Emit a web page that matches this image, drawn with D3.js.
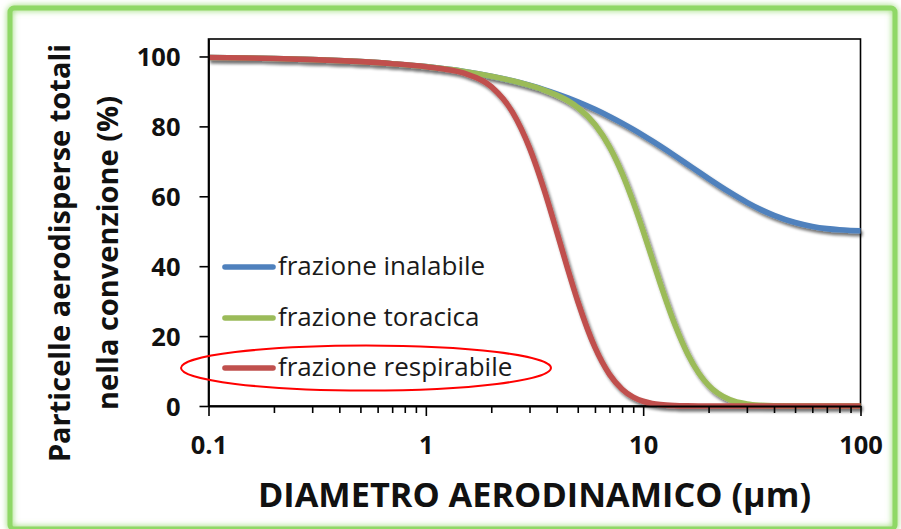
<!DOCTYPE html>
<html>
<head>
<meta charset="utf-8">
<script src="https://cdn.jsdelivr.net/npm/d3@7"></script>
<style>
  html, body { margin: 0; padding: 0; background: #ffffff; }
  svg { display: block; }
  text { font-family: "Open Sans", "Liberation Sans", sans-serif; }
</style>
</head>
<body>
<svg id="chart" width="901" height="529"></svg>
<script>
// Aerodynamic diameter (µm) sampled along the log axis
const diameters = [0.1, 0.15, 0.2, 0.3, 0.5, 0.7, 1, 1.5, 2, 2.5, 3, 3.5, 4, 4.5, 5, 6, 7, 8, 9, 10,
  11, 12, 14, 16, 18, 20, 25, 30, 35, 40, 50, 60, 70, 80, 90, 100];

// Fraction of total airborne particles in each convention (%)
const inalabile = [99.7, 99.55, 99.4, 99.11, 98.52, 97.94, 97.09, 95.7, 94.35, 93.04, 91.76, 90.53, 89.33, 88.17, 87.04, 84.88, 82.85, 80.94, 79.14, 77.44,
  75.84, 74.34, 71.59, 69.14, 66.98, 65.06, 61.16, 58.26, 56.12, 54.54, 52.49, 51.37, 50.75, 50.41, 50.23, 50.12];
const toracica = [99.7, 99.55, 99.4, 99.11, 98.52, 97.94, 97.09, 95.7, 94.35, 93.03, 91.72, 90.39, 88.95, 87.33, 85.42, 80.54, 74.16, 66.57, 58.33, 50.03,
  42.13, 34.94, 23.23, 14.96, 9.45, 5.92, 1.82, 0.57, 0.19, 0.06, 0.01, 0, 0, 0, 0, 0];
const respirabile = [99.7, 99.55, 99.4, 99.11, 98.52, 97.94, 97.07, 95.21, 91.38, 84.17, 73.85, 61.92, 49.97, 39.14, 29.97, 16.76, 9.05, 4.81, 2.54, 1.35,
  0.72, 0.39, 0.12, 0.04, 0.01, 0, 0, 0, 0, 0, 0, 0, 0, 0, 0, 0];

const seriesNames = ["frazione inalabile", "frazione toracica", "frazione respirabile"];
const seriesColors = ["#4f81bd", "#9bbb59", "#c0504d"];

const yTicks = [0, 20, 40, 60, 80, 100];
const xMajorTicks = [0.1, 1, 10, 100];
const xTickLabels = ["0.1", "1", "10", "100"];

const xTitle = "DIAMETRO AERODINAMICO (\u03bcm)";
const yTitleLines = ["Particelle aerodisperse totali", "nella convenzione (%)"];

const svg = d3.select("#chart");
const W = 901, H = 529;
const plot = { left: 208.5, right: 860.5, top: 39, bottom: 406 };

// Filters: soft glow for the outer frame, drop shadow for the curves
const defs = svg.append("defs");
const glow = defs.append("filter").attr("id", "glow")
  .attr("x", "-5%").attr("y", "-5%").attr("width", "110%").attr("height", "110%");
glow.append("feGaussianBlur").attr("in", "SourceGraphic").attr("stdDeviation", 3).attr("result", "b");
const gm = glow.append("feMerge");
gm.append("feMergeNode").attr("in", "b");
gm.append("feMergeNode").attr("in", "SourceGraphic");

const shadow = defs.append("filter").attr("id", "shadow")
  .attr("x", "-10%").attr("y", "-10%").attr("width", "120%").attr("height", "130%");
shadow.append("feGaussianBlur").attr("in", "SourceAlpha").attr("stdDeviation", 1.8).attr("result", "blur");
shadow.append("feOffset").attr("in", "blur").attr("dx", 1.5).attr("dy", 3).attr("result", "off");
shadow.append("feComponentTransfer").attr("in", "off").attr("result", "offA")
  .append("feFuncA").attr("type", "linear").attr("slope", 0.55);
const sm = shadow.append("feMerge");
sm.append("feMergeNode").attr("in", "offA");
sm.append("feMergeNode").attr("in", "SourceGraphic");

// Background and green frame
svg.append("rect").attr("width", W).attr("height", H).attr("fill", "#ffffff");
svg.append("rect")
  .attr("x", 10).attr("y", 8).attr("width", 885).attr("height", 521)
  .attr("rx", 4)
  .attr("fill", "none")
  .attr("stroke", "#8fd866")
  .attr("stroke-width", 5)
  .attr("filter", "url(#glow)");

// Scales
const x = d3.scaleLog().domain([0.1, 100]).range([plot.left, plot.right]);
const y = d3.scaleLinear().domain([0, 105]).range([plot.bottom, plot.top]);

// Plot frame
svg.append("rect")
  .attr("x", plot.left).attr("y", plot.top)
  .attr("width", plot.right - plot.left).attr("height", plot.bottom - plot.top)
  .attr("fill", "none").attr("stroke", "#000").attr("stroke-width", 1.6);

// Curves
const line = d3.line()
  .x(d => x(d[0]))
  .y(d => y(d[1]))
  .curve(d3.curveMonotoneX);

const allSeries = [inalabile, toracica, respirabile];
const gLines = svg.append("g").attr("filter", "url(#shadow)");
allSeries.forEach((vals, i) => {
  gLines.append("path")
    .datum(diameters.map((d, k) => [d, vals[k]]))
    .attr("d", line)
    .attr("fill", "none")
    .attr("stroke", seriesColors[i])
    .attr("stroke-width", 5.6)
    .attr("stroke-linejoin", "round");
});

// Y axis
const yAxis = svg.append("g")
  .attr("transform", `translate(${plot.left},0)`)
  .call(d3.axisLeft(y).tickValues(yTicks).tickSize(9).tickSizeOuter(0).tickPadding(19));
yAxis.select(".domain").attr("stroke", "#000").attr("stroke-width", 1.8);
yAxis.selectAll(".tick line").attr("stroke", "#000").attr("stroke-width", 1.6);
yAxis.selectAll(".tick text")
  .attr("fill", "#111")
  .style("font-size", "25.5px")
  .style("font-weight", "bold")
  .attr("dy", "0.36em");

// X axis: all decade subdivisions as ticks, labels on decades only
const xAllTicks = [];
for (let dec = 0.1; dec < 100; dec *= 10) {
  for (let m = 1; m <= 9; m++) xAllTicks.push(+(dec * m).toPrecision(3));
}
xAllTicks.push(100);
const xAxis = svg.append("g")
  .attr("transform", `translate(0,${plot.bottom})`)
  .call(d3.axisBottom(x).tickValues(xAllTicks).tickSize(7).tickSizeOuter(0)
    .tickFormat(d => {
      const idx = xMajorTicks.indexOf(d);
      return idx >= 0 ? xTickLabels[idx] : "";
    }));
xAxis.select(".domain").attr("stroke", "#000").attr("stroke-width", 1.8);
xAxis.selectAll(".tick line")
  .attr("stroke", "#000").attr("stroke-width", 1.6)
  .attr("y2", d => xMajorTicks.includes(d) ? 10 : 7);
xAxis.selectAll(".tick text")
  .attr("fill", "#111")
  .attr("y", 48).attr("dy", null)
  .style("font-size", "25.5px")
  .style("font-weight", "bold");

// Axis titles
svg.append("text")
  .attr("x", (plot.left + plot.right) / 2)
  .attr("y", 507)
  .attr("text-anchor", "middle")
  .attr("fill", "#111")
  .style("font-size", "34.3px")
  .style("font-weight", "bold")
  .text(xTitle);

const yTitle = svg.append("g").attr("transform", "translate(0,253) rotate(-90)");
yTitleLines.forEach((t, i) => {
  yTitle.append("text")
    .attr("x", 0)
    .attr("y", i === 0 ? 70 : 118)
    .attr("text-anchor", "middle")
    .attr("fill", "#111")
    .style("font-size", "29px")
    .style("font-weight", "bold")
    .text(t);
});

// Legend
const legendRows = [267, 318, 368];
const legend = svg.append("g");
seriesNames.forEach((name, i) => {
  legend.append("line")
    .attr("x1", 225).attr("x2", 273)
    .attr("y1", legendRows[i]).attr("y2", legendRows[i])
    .attr("stroke", seriesColors[i])
    .attr("stroke-width", 5.6)
    .attr("stroke-linecap", "round");
  legend.append("text")
    .attr("x", 278)
    .attr("y", legendRows[i] + 8)
    .attr("fill", "#1a1a1a")
    .style("font-size", "26px")
    .text(name);
});

// Highlight around the respirable fraction entry
svg.append("ellipse")
  .attr("cx", 366).attr("cy", 368)
  .attr("rx", 185).attr("ry", 22.5)
  .attr("fill", "none")
  .attr("stroke", "#ff0000")
  .attr("stroke-width", 2);
</script>
</body>
</html>
